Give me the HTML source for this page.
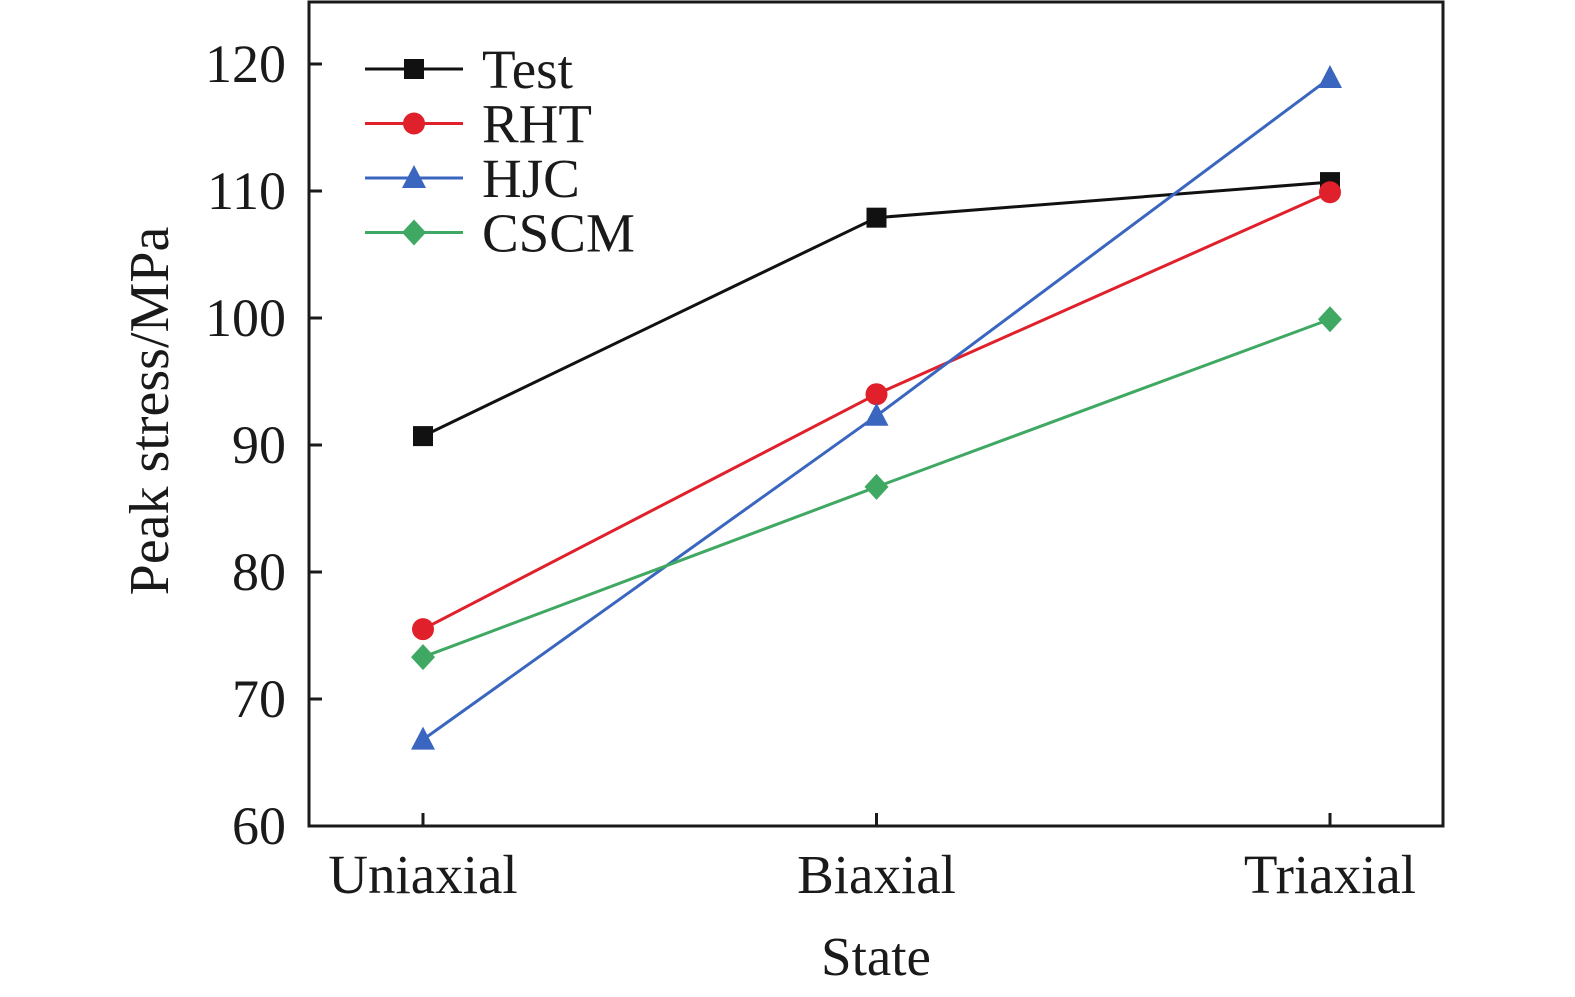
<!DOCTYPE html>
<html><head><meta charset="utf-8"><style>
html,body{margin:0;padding:0;background:#fff;width:1575px;height:997px;overflow:hidden}
text{font-family:"Liberation Serif",serif;fill:#1a1a1a}
</style></head><body>
<svg id="chart" width="1575" height="997" viewBox="0 0 1575 997" xmlns="http://www.w3.org/2000/svg">
</svg>
<script>
const categories = ["Uniaxial","Biaxial","Triaxial"];
const testVals = [90.7, 107.9, 110.7];
const rhtVals = [75.5, 94.0, 109.9];
const hjcVals = [66.8, 92.3, 118.9];
const cscmVals = [73.3, 86.7, 99.9];
const yTicks = [60,70,80,90,100,110,120];
const seriesNames = ["Test","RHT","HJC","CSCM"];

const NS="http://www.w3.org/2000/svg";
const svg=document.getElementById('chart');
const L=309,R=1443,T=2,B=826;
const yMin=60,yMax=120,yTop=64;
function y(v){return B-(v-yMin)/(yMax-yMin)*(B-yTop);}
const xPos=[423,876,1330];
function x(i){return xPos[0]+i*(xPos[2]-xPos[0])/(categories.length-1);}
function mk(tag,attrs,parent){const e=document.createElementNS(NS,tag);for(const k in attrs)e.setAttribute(k,attrs[k]);(parent||svg).appendChild(e);return e;}

const frame=mk('rect',{x:L,y:T,width:R-L,height:B-T,fill:'none',stroke:'#1a1a1a','stroke-width':3});



yTicks.forEach(v=>{
  const t=mk('line',{x1:L,x2:L+13,y1:y(v),y2:y(v),stroke:'#1a1a1a','stroke-width':3});
  
  
  const lb=mk('text',{x:286,y:y(v)+18,'text-anchor':'end','font-size':54});
  lb.textContent=v;
  
  
});
categories.forEach((c,i)=>{
  const t=mk('line',{x1:x(i),x2:x(i),y1:B,y2:B-13,stroke:'#1a1a1a','stroke-width':3});
  
  
  const lb=mk('text',{x:x(i),y:893,'text-anchor':'middle','font-size':55});
  lb.textContent=c;
  
  
});
const xt=mk('text',{x:876,y:975,'text-anchor':'middle','font-size':55});
xt.textContent='State';


const yt=mk('text',{x:0,y:0,'text-anchor':'middle','font-size':56,transform:'translate(168,411) rotate(-90)'});
yt.textContent='Peak stress/MPa';



function marker(kind,cx,cy,color,g){
  let e;
  if(kind==='square') e=mk('rect',{x:cx-10,y:cy-10,width:20,height:20,fill:color},g);
  else if(kind==='circle') e=mk('circle',{cx:cx,cy:cy,r:11,fill:color},g);
  else if(kind==='triangle') e=mk('polygon',{points:`${cx},${cy-13} ${cx-12},${cy+10} ${cx+12},${cy+10}`,fill:color},g);
  else e=mk('polygon',{points:`${cx},${cy-13} ${cx+12},${cy} ${cx},${cy+13} ${cx-12},${cy}`,fill:color},g);
  return e;
}
const series=[
  {name:seriesNames[0],vals:testVals,color:'#111111',m:'square'},
  {name:seriesNames[1],vals:rhtVals,color:'#e0202a',m:'circle'},
  {name:seriesNames[2],vals:hjcVals,color:'#3a66c0',m:'triangle'},
  {name:seriesNames[3],vals:cscmVals,color:'#3fa862',m:'diamond'}
];
series.forEach((s,si)=>{
  const g=mk('g',{});
  
  
  const pl=mk('polyline',{points:s.vals.map((v,i)=>x(i)+','+y(v)).join(' '),fill:'none',stroke:s.color,'stroke-width':3},g);
  
  
  s.vals.forEach((v,i)=>{
    const m=marker(s.m,x(i),y(v),s.color,g);
    
    
  });
  const ly=69+si*54.5;
  const lg=mk('g',{});
  
  
  mk('line',{x1:365,x2:463,y1:ly,y2:ly,stroke:s.color,'stroke-width':3},lg);
  marker(s.m,414,ly,s.color,lg);
  const t=mk('text',{x:482,y:ly+19,'font-size':55},lg);
  t.textContent=s.name;
});
</script>
</body></html>
